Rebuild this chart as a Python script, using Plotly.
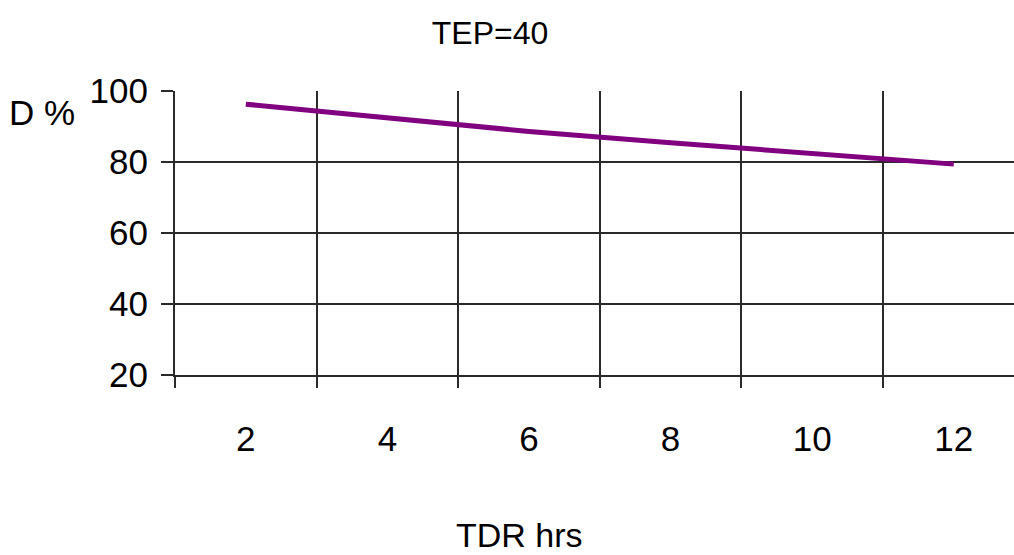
import plotly.graph_objects as go

tdr_hrs = ["2", "4", "6", "8", "10", "12"]
d_pct = [96.3, 92.3, 88.6, 85.4, 82.3, 79.4]
y_ticks = [20, 40, 60, 80, 100]

FONT = "Liberation Sans, Arial, sans-serif"
W, H = 1014, 555
L, R, T, B = 175, 0, 91, 180

fig = go.Figure()
fig.add_trace(go.Scatter(
    x=tdr_hrs, y=d_pct, mode="lines",
    line=dict(color="#800080", width=5),
    showlegend=False, hoverinfo="skip",
))

fig.update_layout(
    width=W, height=H,
    margin=dict(l=L, r=R, t=T, b=B, pad=0),
    paper_bgcolor="white", plot_bgcolor="white",
    font=dict(family=FONT, size=35, color="black"),
    title=dict(text="TEP=40", x=490 / W, xanchor="center",
               y=1 - 33 / H, yanchor="middle",
               font=dict(family=FONT, size=32, color="black")),
    xaxis=dict(
        type="category", tickson="boundaries",
        range=[-0.5, -0.5 + (W - L - R) / 141.6],
        showgrid=True, gridcolor="#2a2a2a", gridwidth=2,
        showline=True, linecolor="#2a2a2a", linewidth=2,
        ticks="outside", ticklen=11, tickwidth=2, tickcolor="#2a2a2a",
        ticklabelstandoff=32,
        tickfont=dict(family=FONT, size=35, color="black"),
        zeroline=False, fixedrange=True,
    ),
    yaxis=dict(
        range=[20, 100], tickvals=y_ticks,
        showgrid=True, gridcolor="#2a2a2a", gridwidth=2,
        showline=True, linecolor="#2a2a2a", linewidth=2,
        ticks="outside", ticklen=12, tickwidth=2, tickcolor="#2a2a2a",
        ticklabelstandoff=6,
        tickfont=dict(family=FONT, size=35, color="black"),
        zeroline=False, fixedrange=True,
    ),
    annotations=[
        dict(text="TDR hrs", xref="paper", yref="paper",
             x=(519 - L) / (W - L - R), y=(375 - 535) / (H - T - B),
             xanchor="center", yanchor="middle", showarrow=False,
             font=dict(family=FONT, size=34, color="black")),
        dict(text="D %", xref="paper", yref="paper",
             x=(42 - L) / (W - L - R), y=(375 - 112) / (H - T - B),
             xanchor="center", yanchor="middle", showarrow=False,
             font=dict(family=FONT, size=35, color="black")),
    ],
)

fig.write_html("out.html", config={"displayModeBar": False},
               post_script="document.body.style.margin='0';document.body.style.overflow='hidden';")
